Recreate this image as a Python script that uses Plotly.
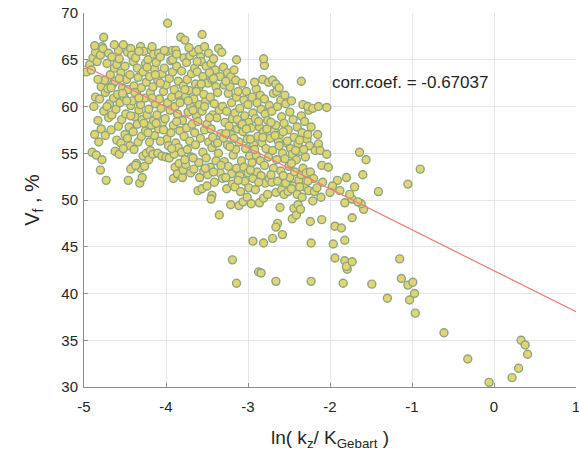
import plotly.graph_objects as go

# (ln(kz/K_Gebart), Vf %)
points = [
    (-4.97,63.7),(-4.93,64.5),
    (-4.90,55.1),(-4.88,60.0),(-4.91,63.9),(-4.89,65.2),
    (-4.85,54.8),(-4.83,58.5),(-4.86,61.0),(-4.84,64.8),(-4.86,65.8),
    (-4.80,53.2),(-4.78,54.3),(-4.81,60.8),(-4.79,62.1),(-4.80,65.5),(-4.78,66.4),
    (-4.73,52.1),(-4.76,59.5),(-4.74,61.5),(-4.75,62.8),(-4.77,66.2),(-4.76,67.4),
    (-4.70,58.8),(-4.69,60.3),(-4.71,61.9),(-4.68,63.4),(-4.70,65.7),
    (-4.66,59.1),(-4.64,60.9),(-4.65,62.4),(-4.63,64.1),(-4.66,65.3),
    (-4.60,56.4),(-4.58,57.9),(-4.61,59.7),(-4.59,61.3),(-4.62,62.7),(-4.60,64.5),(-4.58,66.0),
    (-4.55,56.1),(-4.54,58.6),(-4.56,60.4),(-4.53,62.0),(-4.55,63.6),(-4.57,65.1),
    (-4.50,57.0),(-4.49,59.2),(-4.51,61.0),(-4.48,62.9),(-4.50,64.3),(-4.52,66.6),
    (-4.46,52.1),(-4.44,55.8),(-4.45,57.8),(-4.43,60.1),(-4.46,61.8),(-4.44,63.4),(-4.47,65.8),(-4.43,66.2),
    (-4.41,53.5),(-4.39,55.4),(-4.40,57.3),(-4.38,58.9),(-4.41,60.6),(-4.39,62.2),(-4.40,64.8),(-4.42,65.5),
    (-4.36,53.9),(-4.34,56.2),(-4.35,58.1),(-4.33,59.6),(-4.36,61.4),(-4.34,63.1),(-4.35,64.1),(-4.37,65.2),
    (-4.32,51.8),(-4.29,52.4),(-4.31,53.4),(-4.28,54.7),(-4.30,56.8),(-4.29,58.6),(-4.31,60.2),(-4.30,62.0),(-4.28,63.7),(-4.31,66.4),
    (-4.26,53.6),(-4.24,55.0),(-4.25,57.4),(-4.23,59.1),(-4.26,60.9),(-4.24,62.6),(-4.25,64.6),(-4.27,65.9),
    (-4.21,54.3),(-4.19,55.3),(-4.20,56.2),(-4.18,58.0),(-4.21,59.7),(-4.19,61.5),(-4.20,63.2),(-4.22,65.0),(-4.18,66.0),
    (-4.16,54.9),(-4.14,56.9),(-4.15,58.5),(-4.13,60.3),(-4.16,62.1),(-4.14,64.0),(-4.15,65.6),
    (-4.10,55.0),(-4.09,57.6),(-4.11,59.1),(-4.08,60.8),(-4.10,62.8),(-4.12,64.7),(-4.09,65.7),
    (-4.05,54.7),(-4.04,58.3),(-4.06,59.8),(-4.03,61.6),(-4.05,63.5),(-4.07,65.3),
    (-4.00,54.6),(-3.99,56.5),(-4.01,58.7),(-3.98,60.4),(-4.00,62.3),(-4.02,64.1),(-3.99,65.9),
    (-3.96,54.5),(-3.94,57.2),(-3.95,59.6),(-3.93,61.0),(-3.96,63.0),(-3.94,64.9),(-3.92,66.0),(-3.98,68.9),
    (-3.91,52.3),(-3.89,53.5),(-3.90,54.9),(-3.88,56.1),(-3.91,58.0),(-3.89,60.0),(-3.90,61.8),(-3.92,63.7),(-3.88,66.0),
    (-3.86,52.8),(-3.84,53.9),(-3.85,55.6),(-3.83,57.4),(-3.86,59.2),(-3.84,61.2),(-3.85,62.7),(-3.87,64.3),(-3.82,67.4),
    (-3.80,52.4),(-3.79,53.2),(-3.81,55.1),(-3.78,56.8),(-3.80,58.5),(-3.82,60.6),(-3.79,62.2),(-3.81,63.8),(-3.78,65.2),(-3.77,67.1),
    (-3.76,53.8),(-3.74,55.4),(-3.75,57.7),(-3.73,59.4),(-3.76,61.1),(-3.74,62.9),(-3.75,64.7),
    (-3.70,52.9),(-3.69,54.6),(-3.71,56.3),(-3.68,58.1),(-3.70,60.0),(-3.72,61.7),(-3.69,63.5),(-3.71,65.4),
    (-3.66,53.3),(-3.64,55.9),(-3.65,57.2),(-3.63,59.0),(-3.66,60.8),(-3.64,62.4),(-3.65,64.1),(-3.67,65.8),
    (-3.61,51.0),(-3.59,52.4),(-3.60,54.0),(-3.58,56.6),(-3.61,58.4),(-3.59,60.2),(-3.60,62.0),(-3.62,63.7),(-3.58,65.3),(-3.60,66.1),
    (-3.56,51.2),(-3.54,53.1),(-3.55,55.1),(-3.53,57.5),(-3.56,59.5),(-3.54,61.3),(-3.55,63.2),(-3.57,64.8),(-3.53,66.4),(-3.56,67.7),
    (-3.50,51.5),(-3.49,52.7),(-3.51,54.5),(-3.48,56.2),(-3.50,58.1),(-3.52,60.5),(-3.49,62.5),(-3.51,64.3),(-3.48,65.7),
    (-3.44,50.5),(-3.45,50.1),(-3.46,53.5),(-3.44,55.6),(-3.45,57.6),(-3.43,59.1),(-3.46,61.0),(-3.44,62.9),(-3.45,64.6),
    (-3.41,51.9),(-3.39,54.2),(-3.40,56.1),(-3.38,58.8),(-3.41,60.3),(-3.39,62.1),(-3.40,63.9),(-3.42,65.1),
    (-3.35,48.4),(-3.34,52.9),(-3.36,55.0),(-3.33,57.1),(-3.35,59.6),(-3.37,61.5),(-3.34,63.2),(-3.36,66.2),
    (-3.31,52.3),(-3.29,54.1),(-3.30,56.6),(-3.28,58.3),(-3.31,60.0),(-3.29,62.3),(-3.30,64.2),(-3.32,65.8),
    (-3.26,51.2),(-3.24,53.6),(-3.25,55.9),(-3.23,57.9),(-3.26,59.5),(-3.24,61.4),(-3.25,63.6),
    (-3.21,49.5),(-3.19,51.7),(-3.20,52.8),(-3.18,54.8),(-3.21,57.0),(-3.19,58.7),(-3.20,60.4),(-3.22,62.1),(-3.21,63.2),
    (-3.16,51.4),(-3.14,53.4),(-3.15,55.4),(-3.13,57.6),(-3.16,59.3),(-3.14,61.0),(-3.15,62.8),(-3.14,65.0),
    (-3.11,49.4),(-3.09,50.9),(-3.10,52.6),(-3.08,54.2),(-3.11,56.2),(-3.09,58.1),(-3.10,59.8),(-3.12,61.6),
    (-3.06,49.8),(-3.04,52.0),(-3.05,53.5),(-3.03,55.5),(-3.06,57.3),(-3.04,59.0),(-3.05,60.7),(-3.07,62.5),
    (-3.01,50.3),(-2.99,51.3),(-3.00,52.9),(-2.98,54.7),(-3.01,56.5),(-2.99,58.3),(-3.00,60.2),
    (-2.96,49.6),(-2.94,52.3),(-2.95,54.0),(-2.93,55.9),(-2.96,57.7),(-2.94,59.3),(-2.95,61.0),
    (-2.91,51.1),(-2.89,53.0),(-2.90,54.8),(-2.88,56.8),(-2.91,58.7),(-2.89,60.4),(-2.90,61.9),
    (-2.86,49.7),(-2.84,52.6),(-2.85,54.2),(-2.83,56.1),(-2.86,57.8),(-2.84,59.7),(-2.85,61.2),
    (-2.81,50.2),(-2.79,51.8),(-2.80,53.7),(-2.78,55.5),(-2.81,57.3),(-2.79,59.2),(-2.80,60.8),(-2.82,62.9),(-2.80,64.4),(-2.81,65.1),
    (-2.76,50.6),(-2.74,52.3),(-2.75,54.6),(-2.73,56.6),(-2.76,58.5),(-2.74,60.1),(-2.75,62.6),
    (-2.71,51.9),(-2.69,53.4),(-2.70,55.3),(-2.68,57.4),(-2.71,59.5),(-2.69,61.4),(-2.70,62.8),
    (-2.66,50.8),(-2.64,52.0),(-2.65,54.3),(-2.63,56.3),(-2.66,58.0),(-2.64,60.0),(-2.65,61.6),(-2.66,62.4),
    (-2.61,49.2),(-2.59,51.1),(-2.60,53.1),(-2.58,55.0),(-2.61,57.0),(-2.59,58.9),(-2.60,60.7),(-2.62,62.0),
    (-2.56,50.6),(-2.54,51.8),(-2.55,54.4),(-2.53,56.1),(-2.56,58.2),(-2.54,60.3),(-2.55,61.2),
    (-2.51,50.9),(-2.49,52.4),(-2.50,53.6),(-2.48,55.5),(-2.51,57.5),(-2.49,59.4),
    (-2.46,48.0),(-2.44,49.1),(-2.45,51.5),(-2.43,53.0),(-2.46,54.9),(-2.44,56.7),(-2.45,58.6),(-2.47,60.6),
    (-2.41,48.4),(-2.39,49.5),(-2.40,50.6),(-2.38,52.1),(-2.41,54.3),(-2.39,56.0),(-2.40,57.8),
    (-2.36,49.0),(-2.34,50.3),(-2.35,52.7),(-2.33,53.4),(-2.36,55.2),(-2.34,57.2),(-2.35,59.0),(-2.35,62.7),
    (-2.31,51.4),(-2.29,52.9),(-2.30,54.6),(-2.28,56.5),(-2.31,58.4),(-2.33,60.2),
    (-2.26,51.0),(-2.24,53.0),(-2.25,55.8),(-2.23,57.8),(-2.26,59.6),(-2.27,60.0),
    (-2.21,49.9),(-2.19,50.9),(-2.20,52.3),(-2.18,55.3),(-2.21,59.8),
    (-2.16,51.3),(-2.14,56.0),(-2.15,57.0),(-2.14,60.0),
    (-2.11,50.3),(-2.09,51.9),(-2.10,53.7),(-2.12,55.3),
    (-2.04,54.9),(-2.04,59.9),(-2.02,53.5),
    (-4.43,53.3),(-4.37,53.7),
    (-4.87,57.0),(-4.82,56.2),(-4.79,57.6),(-4.74,56.9),(-4.72,64.6),(-4.67,57.5),(-4.62,55.2),
    (-4.57,54.9),(-4.52,55.5),(-4.47,56.6),(-4.43,59.0),(-4.48,60.6),(-4.53,61.4),(-4.57,63.0),
    (-4.63,66.6),(-4.67,62.0),(-4.72,60.0),(-4.83,62.9),(-4.87,66.5),
    (-4.38,61.5),(-4.33,60.9),(-4.27,58.2),(-4.22,57.2),(-4.17,60.9),(-4.12,58.2),(-4.07,56.3),
    (-4.03,57.5),(-3.97,55.8),(-4.07,62.5),(-4.13,63.4),(-4.23,64.2),(-4.33,65.9),(-4.17,66.4),(-4.02,66.0),
    (-3.93,55.5),(-3.87,58.4),(-3.83,60.4),(-3.77,61.8),(-3.73,60.6),(-3.67,59.6),(-3.63,61.6),
    (-3.57,62.4),(-3.53,60.0),(-3.47,58.8),(-3.43,56.7),(-3.37,56.1),(-3.33,53.7),(-3.27,57.1),
    (-3.22,55.7),(-3.17,56.6),(-3.13,58.6),(-3.07,58.1),(-3.02,57.6),(-2.97,56.5),(-2.92,55.4),
    (-2.87,58.4),(-2.82,56.7),(-2.77,57.6),(-2.72,58.3),(-2.67,56.9),(-2.62,55.8),(-2.57,57.3),
    (-2.52,56.3),(-2.47,53.9),(-2.42,55.3),(-2.37,56.4),(-2.32,55.4),(-2.27,57.0),
    (-3.92,65.0),(-3.87,65.6),(-3.72,66.3),(-3.62,64.8),(-3.47,63.6),(-3.42,63.0),(-3.27,62.7),
    (-3.17,63.9),(-3.02,61.6),(-2.92,62.6),(-3.77,54.3),(-3.67,54.5),(-3.52,53.4),(-3.42,53.0),
    (-3.27,52.4),(-3.12,52.1),(-2.97,53.2),(-2.87,51.9),(-2.72,52.7),(-2.57,52.6),(-2.47,51.2),
    (-2.37,51.4),(-2.27,52.0),
    (-2.94,45.6),(-2.81,45.4),(-2.70,45.9),(-3.19,43.6),(-3.14,41.1),(-2.87,42.3),(-2.84,42.2),
    (-2.66,41.3),(-2.64,47.5),(-2.66,47.1),(-2.58,46.3),(-2.23,41.3),(-2.23,45.4),(-2.24,47.7),
    (-2.10,47.9),(-1.96,45.3),(-1.94,43.8),(-1.82,45.7),(-1.82,43.5),(-1.79,42.6),(-1.80,42.9),
    (-1.73,43.4),(-1.84,41.1),(-1.94,47.2),(-1.86,47.0),(-1.73,48.1),(-1.41,50.9),(-1.64,55.1),
    (-1.56,54.3),(-1.60,52.7),(-1.49,41.0),(-1.30,39.5),(-1.15,43.7),(-1.13,41.6),(-1.05,51.7),
    (-0.90,53.3),(-1.05,40.9),(-0.99,41.2),(-0.97,40.0),(-1.03,39.3),(-0.96,37.9),(-0.61,35.8),
    (-0.32,33.0),(-0.06,30.5),(0.22,31.0),(0.30,32.0),(0.33,35.0),(0.38,34.5),(0.41,33.5),
    (-1.91,52.1),(-1.80,52.4),(-1.70,51.4),(-1.82,49.7),(-1.73,50.1),(-1.59,49.0),(-1.62,49.6),
    (-1.97,51.5),(-2.00,50.8),(-1.88,51.0),(-1.76,50.6),(-1.66,49.8),
]
ln_ratio = [p[0] for p in points]
vf = [p[1] for p in points]

fit_x = [-5, 1]
fit_y = [64.35, 38.05]

x_ticks = [-5, -4, -3, -2, -1, 0, 1]
x_tick_labels = ["-5", "-4", "-3", "-2", "-1", "0", "1"]
y_ticks = [30, 35, 40, 45, 50, 55, 60, 65, 70]
y_tick_labels = ["30", "35", "40", "45", "50", "55", "60", "65", "70"]
corr_text = "corr.coef. = -0.67037"

fig = go.Figure()
fig.add_trace(go.Scatter(
    x=ln_ratio, y=vf, mode="markers",
    marker=dict(size=8, color="rgb(226,212,112)",
                line=dict(color="rgb(138,166,132)", width=1.4)),
    hoverinfo="skip"))
fig.add_trace(go.Scatter(
    x=fit_x, y=fit_y, mode="lines",
    line=dict(color="rgb(236,128,128)", width=1.3), hoverinfo="skip"))

fig.add_annotation(x=-2.0, y=62.6, text=corr_text, showarrow=False,
                   xanchor="left", yanchor="middle",
                   font=dict(size=17, color="#262626"))

axis_common = dict(showgrid=True, gridcolor="#e6e6e6", gridwidth=1,
                   showline=True, linecolor="#8c8c8c", linewidth=1,
                   ticks="inside", ticklen=4, tickcolor="#8c8c8c",
                   zeroline=False, tickfont=dict(size=15, color="#262626"),
                   ticklabeloverflow="allow", automargin=False)

fig.update_layout(
    width=579, height=456,
    margin=dict(l=84, r=3, t=13, b=69),
    plot_bgcolor="white", paper_bgcolor="white",
    showlegend=False,
    font=dict(family="Liberation Sans, Arial, sans-serif", color="#262626"),
    xaxis=dict(range=[-5, 1], tickvals=x_ticks, ticktext=x_tick_labels,
               ticklabelstandoff=6,
               title=dict(text="ln( k<sub>z</sub>/ K<sub>Gebart</sub> )",
                          font=dict(size=19), standoff=16),
               **axis_common),
    yaxis=dict(range=[30, 70], tickvals=y_ticks, ticktext=y_tick_labels,
               ticklabelstandoff=2,
               title=dict(text="V<sub>f</sub> , %", font=dict(size=20), standoff=16),
               **axis_common),
)

fig.write_html("out.html")
